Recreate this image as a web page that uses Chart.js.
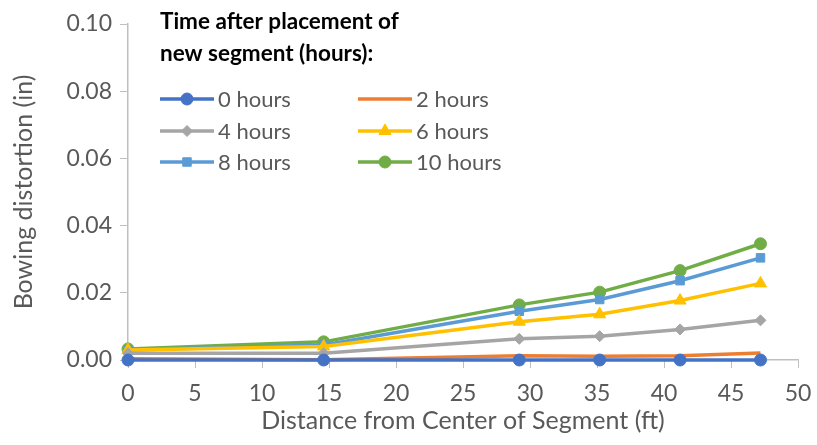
<!DOCTYPE html>
<html><head><meta charset="utf-8">
<script src="https://cdn.jsdelivr.net/npm/chart.js@4"></script>
<style>html,body{margin:0;padding:0;background:#fff}#wrap{width:817px;height:445px;position:relative}</style>
</head><body><div id="wrap"><canvas id="c" width="817" height="445"></canvas></div>
<script>
const distance = [0, 14.6, 29.2, 35.2, 41.2, 47.2];
const h0  = [0.0000, 0.0000, 0.0000, 0.0000, 0.0000, 0.0000];
const h2  = [0.0004, 0.0001, 0.0013, 0.0011, 0.0013, 0.0021];
const h4  = [0.0020, 0.0020, 0.0063, 0.0071, 0.0091, 0.0118];
const h6  = [0.0030, 0.0040, 0.0114, 0.0136, 0.0177, 0.0228];
const h8  = [0.0030, 0.0045, 0.0145, 0.0180, 0.0236, 0.0304];
const h10 = [0.0033, 0.0054, 0.0164, 0.0202, 0.0266, 0.0346];
const seriesLabels = ['0 hours','2 hours','4 hours','6 hours','8 hours','10 hours'];
const legendTitle = ['Time after placement of','new segment (hours):'];
const xTitle = 'Distance from Center of Segment (ft)';
const yTitle = 'Bowing distortion (in)';

const FONT = 'Lato, "Open Sans", sans-serif';
const styles = [
  {c:'#4472C4', p:'circle', r:6},
  {c:'#ED7D31', p:false, r:0},
  {c:'#A5A5A5', p:'rectRot', r:5.5},
  {c:'#FFC000', p:'triangle', r:7},
  {c:'#5B9BD5', p:'rect', r:6},
  {c:'#70AD47', p:'circle', r:6}
];
const vals = [h0,h2,h4,h6,h8,h10];
const datasets = vals.map((v,i)=>({
  label: seriesLabels[i],
  data: distance.map((x,j)=>({x:x,y:v[j]})),
  borderColor: styles[i].c, backgroundColor: styles[i].c,
  borderWidth: 3.5,
  pointStyle: styles[i].p || 'circle',
  pointRadius: styles[i].p ? styles[i].r : 0,
  pointBorderWidth: 1,
  tension: 0,
  clip: false
}));

const legendPlugin = {
  id:'customLegend',
  afterDraw(chart){
    const ctx = chart.ctx;
    ctx.save();
    ctx.fillStyle = '#000';
    ctx.font = 'bold 22.5px ' + FONT;
    ctx.textBaseline = 'middle';
    ctx.textAlign = 'left';
    ctx.fillText(legendTitle[0], 160, 22);
    ctx.fillText(legendTitle[1], 160, 54);
    const cols = [160, 358];
    const rows = [99, 131, 162];
    chart.data.datasets.forEach((ds,i)=>{
      const x = cols[i%2], y = rows[Math.floor(i/2)];
      ctx.strokeStyle = ds.borderColor; ctx.lineWidth = 3.5;
      ctx.beginPath(); ctx.moveTo(x, y); ctx.lineTo(x+54, y); ctx.stroke();
      if (ds.pointRadius > 0) {
        ctx.fillStyle = ds.backgroundColor;
        ctx.strokeStyle = ds.borderColor;
        ctx.lineWidth = 1;
        Chart.helpers.drawPoint(ctx, {pointStyle: ds.pointStyle, radius: ds.pointRadius, borderWidth:1, rotation:0}, x+27, y);
      }
      ctx.fillStyle = '#595959';
      ctx.font = '22px ' + FONT;
      ctx.fillText(ds.label, x+58, y+1);
    });
    ctx.restore();
  }
};

new Chart(document.getElementById('c'), {
  type:'line',
  data:{datasets},
  options:{
    responsive:false, animation:false,
    layout:{padding:{top:24,right:19,left:9,bottom:0}},
    plugins:{legend:{display:false}, tooltip:{enabled:false}},
    scales:{
      x:{type:'linear', min:0, max:50,
        ticks:{stepSize:5, color:'#595959', font:{family:FONT,size:23}, padding:12, maxRotation:0},
        grid:{display:true, drawOnChartArea:false, drawTicks:true, tickLength:8, color:'#bfbfbf'},
        border:{color:'#bfbfbf', width:1.5},
        title:{display:true, text:xTitle, color:'#595959', font:{family:FONT,size:25}, padding:{top:0,bottom:9}},
        afterFit(s){ s.height = 85; s.paddingRight = 0; s.paddingLeft = 0; }
      },
      y:{min:0, max:0.10,
        ticks:{stepSize:0.02, color:'#595959', font:{family:FONT,size:23}, padding:8, callback:v=>v.toFixed(2)},
        grid:{display:true, drawOnChartArea:false, drawTicks:true, tickLength:8, color:'#bfbfbf'},
        border:{color:'#bfbfbf', width:1.5},
        title:{display:true, text:yTitle, color:'#595959', font:{family:FONT,size:25}, padding:{top:0,bottom:6}},
        afterFit(s){ s.width = 119; s.paddingTop = 0; s.paddingBottom = 0; }
      }
    }
  },
  plugins:[legendPlugin]
});
</script></body></html>
